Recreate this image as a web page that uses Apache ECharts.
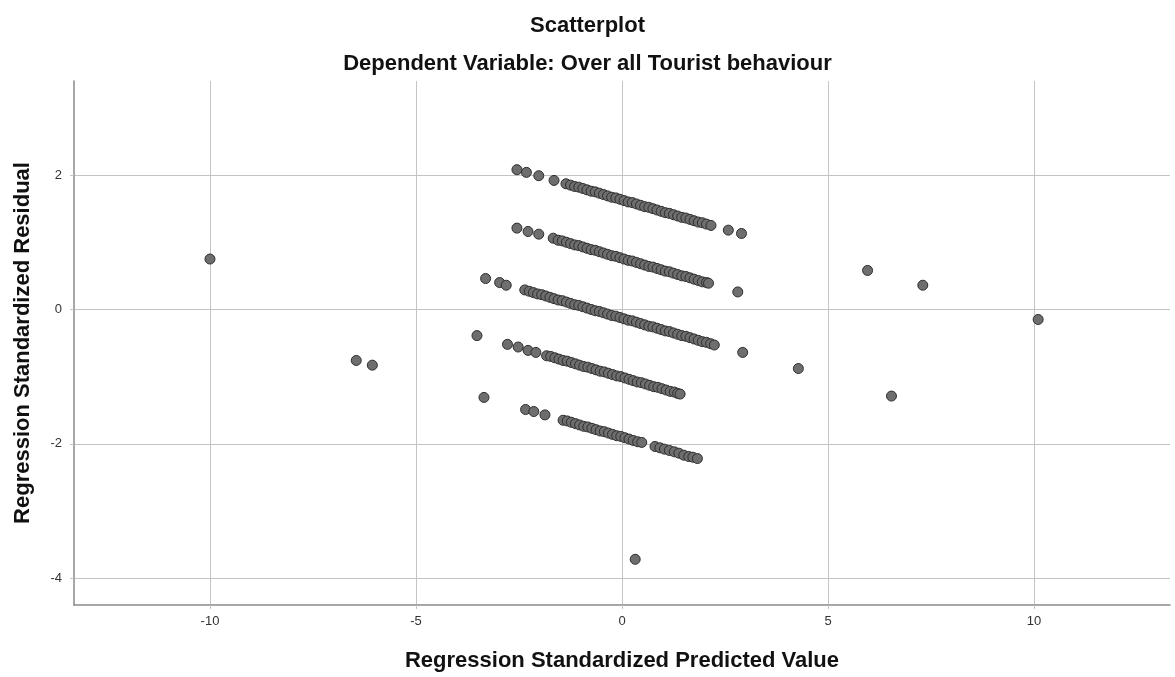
<!DOCTYPE html>
<html>
<head>
<meta charset="utf-8">
<script src="https://cdn.jsdelivr.net/npm/echarts@6/dist/echarts.min.js"></script>
<style>
html,body{margin:0;padding:0;background:#fff;}
#chart{width:1175px;height:677px;}
</style>
</head>
<body>
<div id="chart"></div>
<script>
var titleText = "Scatterplot";
var subtitleText = "Dependent Variable: Over all Tourist behaviour";
var xAxisName = "Regression Standardized Predicted Value";
var yAxisName = "Regression Standardized Residual";
var xTicks = [-10, -5, 0, 5, 10];
var yTicks = [-4, -2, 0, 2];

// Regression standardized predicted values (x) and residuals (y)
var predicted = [
  // band 1
  -2.55,-2.32,-2.02,-1.65,-1.36,-1.25,-1.15,-1.05,-0.95,-0.85,-0.75,-0.65,-0.55,-0.45,-0.35,-0.25,-0.15,-0.05,
  0.05,0.15,0.25,0.35,0.45,0.55,0.65,0.75,0.85,0.95,1.05,1.15,1.25,1.35,1.45,1.55,1.65,1.75,1.85,1.95,2.05,2.16,
  2.58,2.90,5.96,7.30,10.10,
  // band 2
  -2.55,-2.28,-2.02,-1.67,-1.55,-1.45,-1.35,-1.25,-1.15,-1.05,-0.95,-0.85,-0.75,-0.65,-0.55,-0.45,-0.35,-0.25,-0.15,-0.05,
  0.05,0.15,0.25,0.35,0.45,0.55,0.65,0.75,0.85,0.95,1.05,1.15,1.25,1.35,1.45,1.55,1.65,1.75,1.85,1.95,2.05,2.10,2.81,
  // band 3
  -3.31,-2.97,-2.81,-2.36,-2.25,-2.15,-2.05,-1.95,-1.85,-1.75,-1.65,-1.55,-1.45,-1.35,-1.25,-1.15,-1.05,-0.95,-0.85,-0.75,
  -0.65,-0.55,-0.45,-0.35,-0.25,-0.15,-0.05,0.05,0.15,0.25,0.35,0.45,0.55,0.65,0.75,0.85,0.95,1.05,1.15,1.25,1.35,1.45,
  1.55,1.65,1.75,1.85,1.95,2.05,2.15,2.24,2.93,4.28,6.54,
  // band 4
  -10.00,-3.52,-2.78,-2.52,-2.28,-2.09,-1.83,-1.73,-1.63,-1.53,-1.43,-1.33,-1.23,-1.13,-1.03,-0.93,-0.83,-0.73,-0.63,-0.53,
  -0.43,-0.33,-0.23,-0.13,-0.03,0.07,0.17,0.27,0.37,0.47,0.57,0.67,0.77,0.87,0.97,1.07,1.17,1.27,1.35,1.41,
  // band 5
  -6.45,-6.06,-3.35,-2.34,-2.14,-1.87,-1.43,-1.33,-1.23,-1.13,-1.03,-0.93,-0.83,-0.73,-0.63,-0.53,-0.43,-0.33,-0.23,-0.13,
  -0.03,0.07,0.17,0.27,0.38,0.48,0.80,0.92,1.03,1.15,1.27,1.38,1.50,1.62,1.72,1.83,
  // lowest
  0.32
];
var residual = [
  // band 1
  2.08,2.04,1.99,1.92,1.87,1.85,1.83,1.82,1.80,1.78,1.76,1.75,1.73,1.71,1.69,1.67,1.66,1.64,
  1.62,1.60,1.59,1.57,1.55,1.53,1.52,1.50,1.48,1.46,1.44,1.43,1.41,1.39,1.37,1.36,1.34,1.32,1.30,1.29,1.27,1.25,
  1.18,1.13,0.58,0.36,-0.15,
  // band 2
  1.21,1.16,1.12,1.06,1.03,1.02,1.00,0.98,0.96,0.95,0.93,0.91,0.89,0.88,0.86,0.84,0.82,0.80,0.79,0.77,
  0.75,0.73,0.72,0.70,0.68,0.66,0.64,0.63,0.61,0.59,0.57,0.56,0.54,0.52,0.50,0.49,0.47,0.45,0.43,0.41,0.40,0.39,0.26,
  // band 3
  0.46,0.40,0.36,0.29,0.27,0.25,0.23,0.22,0.20,0.18,0.16,0.14,0.13,0.11,0.09,0.07,0.06,0.04,0.02,0.00,
  -0.02,-0.03,-0.05,-0.07,-0.09,-0.10,-0.12,-0.14,-0.16,-0.17,-0.19,-0.21,-0.23,-0.25,-0.26,-0.28,-0.30,-0.32,-0.33,-0.35,-0.37,-0.39,
  -0.40,-0.42,-0.44,-0.46,-0.48,-0.49,-0.51,-0.53,-0.64,-0.88,-1.29,
  // band 4
  0.75,-0.39,-0.52,-0.56,-0.61,-0.64,-0.69,-0.70,-0.72,-0.74,-0.76,-0.77,-0.79,-0.81,-0.83,-0.85,-0.86,-0.88,-0.90,-0.92,
  -0.93,-0.95,-0.97,-0.99,-1.00,-1.02,-1.04,-1.06,-1.08,-1.09,-1.11,-1.13,-1.15,-1.16,-1.18,-1.20,-1.22,-1.23,-1.25,-1.26,
  // band 5
  -0.76,-0.83,-1.31,-1.49,-1.52,-1.57,-1.65,-1.66,-1.68,-1.70,-1.72,-1.74,-1.75,-1.77,-1.79,-1.81,-1.82,-1.84,-1.86,-1.88,
  -1.89,-1.91,-1.93,-1.95,-1.97,-1.98,-2.04,-2.06,-2.08,-2.10,-2.12,-2.14,-2.17,-2.19,-2.20,-2.22,
  // lowest
  -3.72
];

var points = predicted.map(function (x, i) { return [x, residual[i]]; });

var chart = echarts.init(document.getElementById('chart'), null, {renderer: 'canvas'});
var fontFam = '"Liberation Sans", Arial, sans-serif';
chart.setOption({
  animation: false,
  backgroundColor: '#ffffff',
  title: [
    {text: titleText, left: 'center', top: 10,
     textStyle: {fontFamily: fontFam, fontSize: 22, fontWeight: 'bold', color: '#111'}},
    {text: subtitleText, left: 'center', top: 48,
     textStyle: {fontFamily: fontFam, fontSize: 22, fontWeight: 'bold', color: '#111'}}
  ],
  grid: {left: 74, right: 5, top: 81, bottom: 72, containLabel: false},
  xAxis: {
    type: 'value', min: -13.3, max: 13.3,
    name: xAxisName, nameLocation: 'middle', nameGap: 45,
    nameTextStyle: {fontFamily: fontFam, fontSize: 22, fontWeight: 'bold', color: '#111'},
    axisLine: {show: true, onZero: false, lineStyle: {color: '#8a8a8a', width: 1.5}},
    axisTick: {show: true, length: 4, customValues: xTicks, lineStyle: {color: '#c4c4c4'}},
    axisLabel: {customValues: xTicks, margin: 10, fontFamily: fontFam, fontSize: 13, color: '#333'},
    splitLine: {show: true, lineStyle: {color: '#c4c4c4', width: 1}}
  },
  yAxis: {
    type: 'value', min: -4.4, max: 3.4,
    name: yAxisName, nameLocation: 'middle', nameGap: 40, nameRotate: 90,
    nameTextStyle: {fontFamily: fontFam, fontSize: 22, fontWeight: 'bold', color: '#111'},
    axisLine: {show: true, onZero: false, lineStyle: {color: '#8a8a8a', width: 1.5}},
    axisTick: {show: true, length: 4, customValues: yTicks, lineStyle: {color: '#c4c4c4'}},
    axisLabel: {customValues: yTicks, margin: 12, fontFamily: fontFam, fontSize: 13, color: '#333'},
    splitLine: {show: true, lineStyle: {color: '#c4c4c4', width: 1}}
  },
  series: [{
    type: 'scatter',
    data: points,
    symbol: 'circle',
    symbolSize: 10,
    itemStyle: {color: '#6e6e6e', borderColor: '#2e2e2e', borderWidth: 1, opacity: 1},
    emphasis: {disabled: true}
  }]
});
</script>
</body>
</html>
